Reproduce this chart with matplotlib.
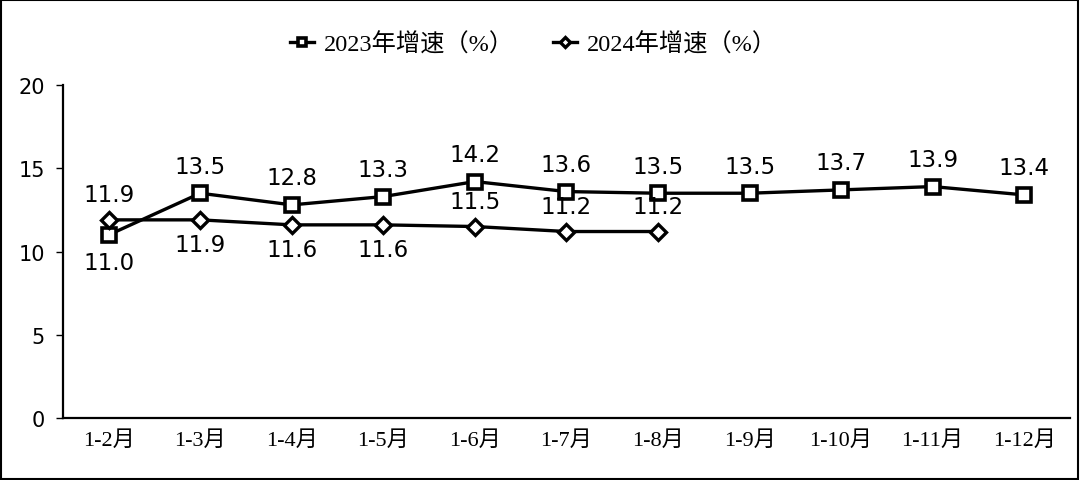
import matplotlib
matplotlib.use("Agg")
import matplotlib.pyplot as plt
from matplotlib.patches import Rectangle

# data
months = ["1-2月", "1-3月", "1-4月", "1-5月", "1-6月", "1-7月",
          "1-8月", "1-9月", "1-10月", "1-11月", "1-12月"]
growth_2023 = [11.0, 13.5, 12.8, 13.3, 14.2, 13.6, 13.5, 13.5, 13.7, 13.9, 13.4]
growth_2024 = [11.9, 11.9, 11.6, 11.6, 11.5, 11.2, 11.2]
label_2023 = "2023年增速（%）"
label_2024 = "2024年增速（%）"

cjk_serif = ["Liberation Serif", "Noto Sans CJK SC"]

fig = plt.figure(figsize=(10.8, 4.81), dpi=100)
ax = fig.add_axes([0.0583, 0.1289, 0.9324, 0.6923])

x23 = list(range(len(growth_2023)))
x24 = list(range(len(growth_2024)))

ax.plot(x23, growth_2023, color="black", lw=2.4, marker="s", ms=10.5,
        mfc="white", mec="black", mew=2.6, label=label_2023, zorder=3)
ax.plot(x24, growth_2024, color="black", lw=2.4, marker="D", ms=8,
        mfc="white", mec="black", mew=2.4, label=label_2024, zorder=3)

# value labels
for i, v in enumerate(growth_2023):
    dy = -20 if i == 0 else 19.5
    ax.annotate(f"{v:.1f}", (i, v), xytext=(0, dy), textcoords="offset points",
                ha="center", va="center", fontsize=16.5, family="DejaVu Sans")
for i, v in enumerate(growth_2024):
    dy = 18 if (i == 0 or i >= 4) else -18
    ax.annotate(f"{v:.1f}", (i, v), xytext=(0, dy), textcoords="offset points",
                ha="center", va="center", fontsize=16.5, family="DejaVu Sans")

ax.set_xlim(-0.5, len(months) - 0.5)
ax.set_ylim(0, 20)
ax.set_yticks([0, 5, 10, 15, 20])
ax.set_xticks(x23)
ax.set_xticklabels(months, family=cjk_serif, fontsize=16)
ax.tick_params(axis="y", labelsize=15, length=5, width=1, pad=8)
ax.tick_params(axis="x", length=0, pad=9)
for lbl in ax.get_yticklabels():
    lbl.set_family("DejaVu Sans")

ax.spines["top"].set_visible(False)
ax.spines["right"].set_visible(False)
ax.spines["left"].set_linewidth(1.6)
ax.spines["bottom"].set_linewidth(1.6)

leg = ax.legend(loc="center", bbox_to_anchor=(0.494, 0.9065), bbox_transform=fig.transFigure,
                ncol=2, frameon=False, prop={"family": cjk_serif, "size": 17.5},
                handlelength=1.0, handletextpad=0.4, columnspacing=1.6, markerscale=0.6)

# frame around the whole picture
fig.patches.append(Rectangle((0.001, 0.002), 0.997, 0.995, transform=fig.transFigure,
                             fill=False, edgecolor="black", lw=1.5))

fig.savefig("out.png", dpi=100)
